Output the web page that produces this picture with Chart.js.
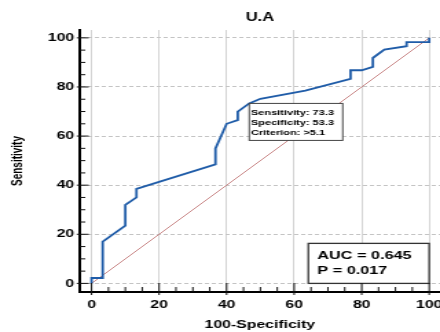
<!DOCTYPE html>
<html>
<head>
<meta charset="utf-8">
<script src="https://cdn.jsdelivr.net/npm/chart.js@4/dist/chart.umd.min.js"></script>
<style>
  html, body { margin: 0; padding: 0; background: #fff; overflow: hidden; }
</style>
</head>
<body>
<!-- the reference is stretched sideways, so draw narrow and let css widen it -->
<canvas id="roc" width="320" height="332" style="display:block;width:440px;height:332px"></canvas>
<script>
const rocX = [0, 0, 3.3, 3.3, 10, 10, 13.3, 13.3, 36.7, 36.7, 40, 43.3, 43.3, 46.7, 50, 63.3, 76.7, 76.7, 80, 83.3, 83.3, 86.7, 93.3, 93.3, 100, 100];
const rocY = [0, 2.2, 2.2, 17, 23.5, 32, 35, 38.5, 48.5, 55, 65, 66.5, 70, 73.3, 75.2, 78.5, 83.3, 86.8, 86.8, 88.2, 91.8, 95.2, 96.6, 98.3, 98.3, 100];
const chanceX = [0, 100];
const chanceY = [0, 100];
const axisTicks = [0, 20, 40, 60, 80, 100];
const criterionPoint = [46.7, 73.3];
const criterionText = ['Sensitivity: 73.3', 'Specificity: 53.3', 'Criterion: >5.1'];
const aucText = ['AUC = 0.645', 'P = 0.017'];

const FONT = '"Liberation Sans", Arial, sans-serif';

const extras = {
    id: 'extras',
    afterDatasetsDraw(chart) {
        const { ctx, scales: { x, y } } = chart;
        ctx.save();
        // criterion box hangs from the cut-off point
        const cx = x.getPixelForValue(criterionPoint[0]);
        const cy = y.getPixelForValue(criterionPoint[1]);
        ctx.fillStyle = '#fff';
        ctx.fillRect(cx, cy, 68, 37);
        ctx.strokeStyle = '#444';
        ctx.lineWidth = 1;
        ctx.strokeRect(cx, cy, 68, 37);
        ctx.fillStyle = '#000';
        ctx.font = 'bold 8px ' + FONT;
        ctx.textBaseline = 'middle';
        criterionText.forEach((t, i) => ctx.fillText(t, cx + 1.2, cy + 9.2 + i * 10.3));

        // AUC box, bottom right
        const l = x.getPixelForValue(64.2), r = x.getPixelForValue(100);
        const t = y.getPixelForValue(16.3), b = y.getPixelForValue(0);
        ctx.fillStyle = '#fff';
        ctx.fillRect(l, t, r - l, b - t);
        ctx.strokeStyle = '#333';
        ctx.lineWidth = 1.3;
        ctx.strokeRect(l, t, r - l, b - t);
        ctx.fillStyle = '#000';
        ctx.font = 'bold 11.8px ' + FONT;
        aucText.forEach((s, i) => ctx.fillText(s, l + 6.6, t + 12.4 + i * 15.3));
        ctx.restore();
    },
    afterDraw(chart) {
        // inward tick marks, minor every 5
        const { ctx, chartArea: a, scales: { x, y } } = chart;
        ctx.save();
        ctx.strokeStyle = '#111';
        ctx.lineWidth = 1;
        ctx.beginPath();
        for (let v = 0; v <= 100; v += 5) {
            const major = v % 20 === 0;
            const px = x.getPixelForValue(v);
            ctx.moveTo(px, a.bottom + (major ? 3 : 0));
            ctx.lineTo(px, a.bottom - (major ? 9 : 5));
            const py = y.getPixelForValue(v);
            ctx.moveTo(a.left - (major ? 2.2 : 0), py);
            ctx.lineTo(a.left + (major ? 6.5 : 4), py);
        }
        ctx.stroke();
        ctx.restore();
    }
};

const tickFont = { family: FONT, size: 11.5, weight: 'bold' };

new Chart(document.getElementById('roc'), {
    type: 'scatter',
    data: {
        datasets: [{
            data: rocX.map((v, i) => ({ x: v, y: rocY[i] })),
            showLine: true,
            borderColor: '#1f5ca8',
            borderWidth: 1.8,
            pointRadius: 0,
            fill: false,
            tension: 0
        }, {
            data: chanceX.map((v, i) => ({ x: v, y: chanceY[i] })),
            showLine: true,
            borderColor: '#c47c7c',
            borderWidth: 0.9,
            pointRadius: 0,
            fill: false
        }]
    },
    options: {
        responsive: false,
        animation: false,
        devicePixelRatio: 1,
        layout: { padding: 0 },
        plugins: {
            legend: { display: false },
            tooltip: { enabled: false },
            title: {
                display: true,
                text: 'U.A',
                fullSize: false,
                color: '#000',
                font: { family: FONT, size: 12, weight: 'bold' },
                padding: { top: 10.5, bottom: 5.1 }
            }
        },
        scales: {
            x: {
                type: 'linear',
                min: -3.5,
                max: 103.2,
                afterBuildTicks: s => { s.ticks = axisTicks.map(v => ({ value: v })); },
                afterFit: s => { s.height = 40; s.paddingLeft = 0; s.paddingRight = 0; },
                ticks: { color: '#000', font: tickFont, padding: 6, maxRotation: 0 },
                grid: { color: '#d4d4d4', lineWidth: 1, drawTicks: false },
                border: { color: '#000', width: 2 },
                title: {
                    display: true,
                    text: '100-Specificity',
                    color: '#000',
                    font: { family: FONT, size: 11.5, weight: 'bold' },
                    padding: { top: 0, bottom: 0.3 }
                }
            },
            y: {
                type: 'linear',
                min: -3.5,
                max: 103.2,
                afterBuildTicks: s => { s.ticks = axisTicks.map(v => ({ value: v })); },
                afterFit: s => { s.width = 58; s.paddingTop = 0; s.paddingBottom = 0; },
                ticks: { color: '#000', font: tickFont, padding: 4 },
                grid: { color: '#c4c4c4', lineWidth: 1, drawTicks: false },
                border: { color: '#000', width: 2, dash: [3, 2] },
                title: {
                    display: true,
                    text: 'Sensitivity',
                    color: '#000',
                    font: { family: FONT, size: 10, weight: 'bold' },
                    padding: { top: 7.6, bottom: 0 }
                }
            }
        }
    },
    plugins: [extras]
});
</script>
</body>
</html>
